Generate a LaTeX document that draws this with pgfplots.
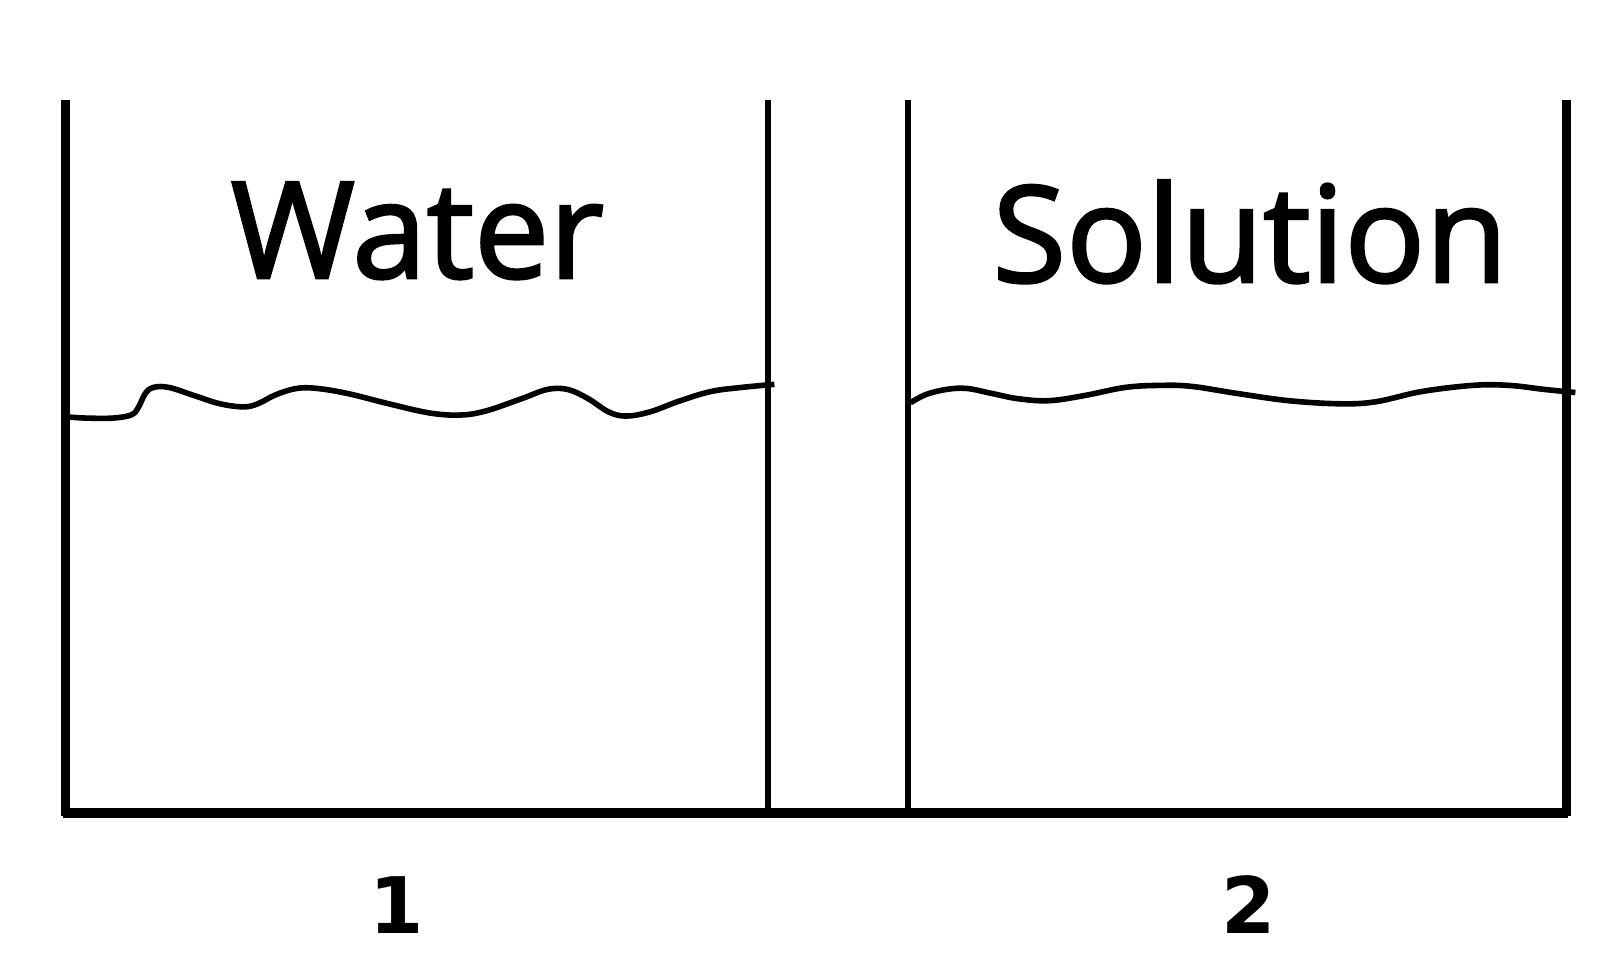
\documentclass[border=0pt]{standalone}
\usepackage{fontspec}
\setmainfont{Open Sans}
\newfontfamily\digitfont{DejaVu Sans}
\newfontfamily\wordfont[FakeBold=2]{Open Sans}
\usepackage{pgfplots}
\pgfplotsset{compat=1.18}
\begin{document}
\begin{tikzpicture}
\begin{axis}[
  scale only axis, width=802pt, height=477.5pt,
  xmin=0, xmax=1568, ymin=0, ymax=933.5,
  clip=false,
  axis line style={draw=none},
  major tick length=0pt,
  ytick=\empty,
  xtick={388,1221},
  xticklabels={1,2},
  xticklabel style={font=\digitfont\fontsize{39}{39}\selectfont\bfseries, text=black, anchor=base, yshift=11pt},
]
% beaker walls and floor (height = 933 - image row)
\addplot[black, line width=4.4pt] coordinates {(64,836) (64,136)};
\addplot[black, line width=3.1pt] coordinates {(750.5,836) (750.5,136)};
\addplot[black, line width=3.1pt] coordinates {(887.5,836) (887.5,136)};
\addplot[black, line width=4.4pt] coordinates {(1531,836) (1531,136)};
\addplot[black, line width=5pt] coordinates {(61.8,139) (1533.2,139)};
% liquid surfaces
\addplot[black, line width=2.8pt, smooth, tension=0.6] coordinates {
(68,526) (85,525) (110,525) (128,528) (135,535) (142,549) (150,555) (165,555)
(190,547) (215,539) (238,536) (252,539) (270,548) (290,554) (310,554) (340,549)
(380,539) (420,530) (450,528) (475,532) (510,544) (535,553) (555,553) (575,544)
(595,531) (612,527) (635,531) (665,542) (695,551) (725,555) (757,558)};
\addplot[black, line width=2.8pt, smooth, tension=0.6] coordinates {
(890,540) (905,548) (925,553) (945,554) (970,549) (995,544) (1025,542) (1060,547)
(1100,555) (1135,557) (1165,556) (1210,549) (1260,542) (1310,539) (1345,541)
(1390,551) (1440,557) (1475,557) (1510,553) (1540,550)};
\node[font=\wordfont\fontsize{67}{67}\selectfont, text=black, anchor=base] at (axis cs:408,662) {Water};
\node[font=\wordfont\fontsize{67}{67}\selectfont, text=black, anchor=base] at (axis cs:1222,658) {Solution};
\end{axis}
\end{tikzpicture}
\end{document}
